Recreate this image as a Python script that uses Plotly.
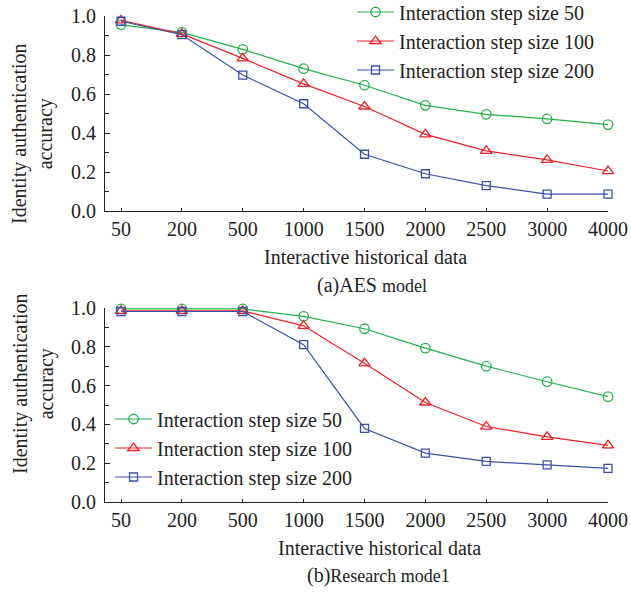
import plotly.graph_objects as go

categories = ["50", "200", "500", "1000", "1500", "2000", "2500", "3000", "4000"]

# (a) AES model
aes_50 = [0.955, 0.916, 0.829, 0.730, 0.645, 0.542, 0.496, 0.472, 0.443]
aes_100 = [0.978, 0.908, 0.783, 0.652, 0.536, 0.393, 0.308, 0.262, 0.205]
aes_200 = [0.973, 0.904, 0.697, 0.550, 0.291, 0.191, 0.130, 0.087, 0.087]

# (b) Research model
res_50 = [0.995, 0.995, 0.995, 0.957, 0.893, 0.793, 0.700, 0.620, 0.543]
res_100 = [0.985, 0.985, 0.985, 0.908, 0.715, 0.513, 0.389, 0.336, 0.292]
res_200 = [0.982, 0.982, 0.982, 0.811, 0.379, 0.252, 0.209, 0.191, 0.173]

series_names = ["Interaction step size 50", "Interaction step size 100", "Interaction step size 200"]
colors = ["#25b04a", "#ee2028", "#3a52a8"]
symbols = ["circle-open", "triangle-up-open", "square-open"]
sizes = [9.5, 10, 8]

FONT = "Liberation Serif"
FS = 20

fig = go.Figure()

for i, ys in enumerate([aes_50, aes_100, aes_200]):
    fig.add_trace(go.Scatter(
        x=categories, y=ys, mode="lines+markers", name=series_names[i],
        line=dict(color=colors[i], width=1.2),
        marker=dict(symbol=symbols[i], size=sizes[i], color=colors[i], line=dict(width=1.3, color=colors[i])),
        xaxis="x", yaxis="y", legend="legend", legendgroup=f"a{i}", cliponaxis=False,
    ))
for i, ys in enumerate([res_50, res_100, res_200]):
    fig.add_trace(go.Scatter(
        x=categories, y=ys, mode="lines+markers", name=series_names[i],
        line=dict(color=colors[i], width=1.2),
        marker=dict(symbol=symbols[i], size=sizes[i], color=colors[i], line=dict(width=1.3, color=colors[i])),
        xaxis="x2", yaxis="y2", legend="legend2", legendgroup=f"b{i}", cliponaxis=False,
    ))

W, H = 631, 594
x0, x1 = 105 / W, 608 / W
top_dom = [(H - 211) / H, (H - 16) / H]
bot_dom = [(H - 502) / H, (H - 308) / H]

xcommon = dict(
    type="category", categoryorder="array", categoryarray=categories,
    range=[-0.263, 8], domain=[x0, x1], showgrid=False, zeroline=False,
    showline=True, linecolor="#222", linewidth=1.2, automargin=False,
    ticks="inside", ticklen=3, tickcolor="#222",
    tickfont=dict(family=FONT, size=FS, color="#222"),
)
ycommon = dict(
    range=[0, 1.0], showgrid=False, zeroline=False,
    showline=True, linecolor="#222", linewidth=1.2, automargin=False,
    ticks="inside", ticklen=5, tickcolor="#222", ticklabelstandoff=4,
    tickvals=[0, 0.2, 0.4, 0.6, 0.8, 1.0], ticktext=["0.0", "0.2", "0.4", "0.6", "0.8", "1.0"],
    minor=dict(tickvals=[0.1, 0.3, 0.5, 0.7, 0.9], ticks="inside", ticklen=4, tickcolor="#222"),
    tickfont=dict(family=FONT, size=FS, color="#222"),
)

legend_common = dict(
    xanchor="left", yanchor="top", bgcolor="rgba(0,0,0,0)",
    font=dict(family=FONT, size=FS, color="#222"),
    tracegroupgap=0, itemwidth=37,
)

fig.update_layout(
    width=W, height=H, margin=dict(l=0, r=0, t=0, b=0, autoexpand=False),
    paper_bgcolor="white", plot_bgcolor="white",
    font=dict(family=FONT, size=FS, color="#222"),
    xaxis=dict(xcommon, anchor="y"),
    yaxis=dict(ycommon, domain=top_dom, anchor="x"),
    xaxis2=dict(xcommon, anchor="y2"),
    yaxis2=dict(ycommon, domain=bot_dom, anchor="x2"),
    legend=dict(legend_common, x=352 / W, y=1 + 7.5 / H),
    legend2=dict(legend_common, x=110 / W, y=1 - 399.5 / H),
    showlegend=True,
)

annotations = [
    dict(text="Interactive historical data", x=366 / W, y=1 - 257 / H, xref="paper", yref="paper",
         showarrow=False, font=dict(family=FONT, size=FS, color="#222"), xanchor="center", yanchor="middle"),
    dict(text="(a)AES <span style='font-size:18px'>model</span>", x=372 / W, y=1 - 286 / H, xref="paper", yref="paper",
         showarrow=False, font=dict(family=FONT, size=20, color="#222"), xanchor="center", yanchor="middle"),
    dict(text="Interactive historical data", x=379 / W, y=1 - 548 / H, xref="paper", yref="paper",
         showarrow=False, font=dict(family=FONT, size=FS, color="#222"), xanchor="center", yanchor="middle"),
    dict(text="(b)<span style='font-size:18px'>Research mode1</span>", x=378 / W, y=1 - 575 / H, xref="paper", yref="paper",
         showarrow=False, font=dict(family=FONT, size=20, color="#222"), xanchor="center", yanchor="middle"),
    dict(text="Identity authentication<br>accuracy", x=33 / W, y=1 - 134 / H, xref="paper", yref="paper",
         textangle=-90, showarrow=False, font=dict(family=FONT, size=FS, color="#222"),
         xanchor="center", yanchor="middle"),
    dict(text="Identity authentication<br>accuracy", x=33 / W, y=1 - 384 / H, xref="paper", yref="paper",
         textangle=-90, showarrow=False, font=dict(family=FONT, size=FS, color="#222"),
         xanchor="center", yanchor="middle"),
]
fig.update_layout(annotations=annotations)

fig.write_html("out.html")
